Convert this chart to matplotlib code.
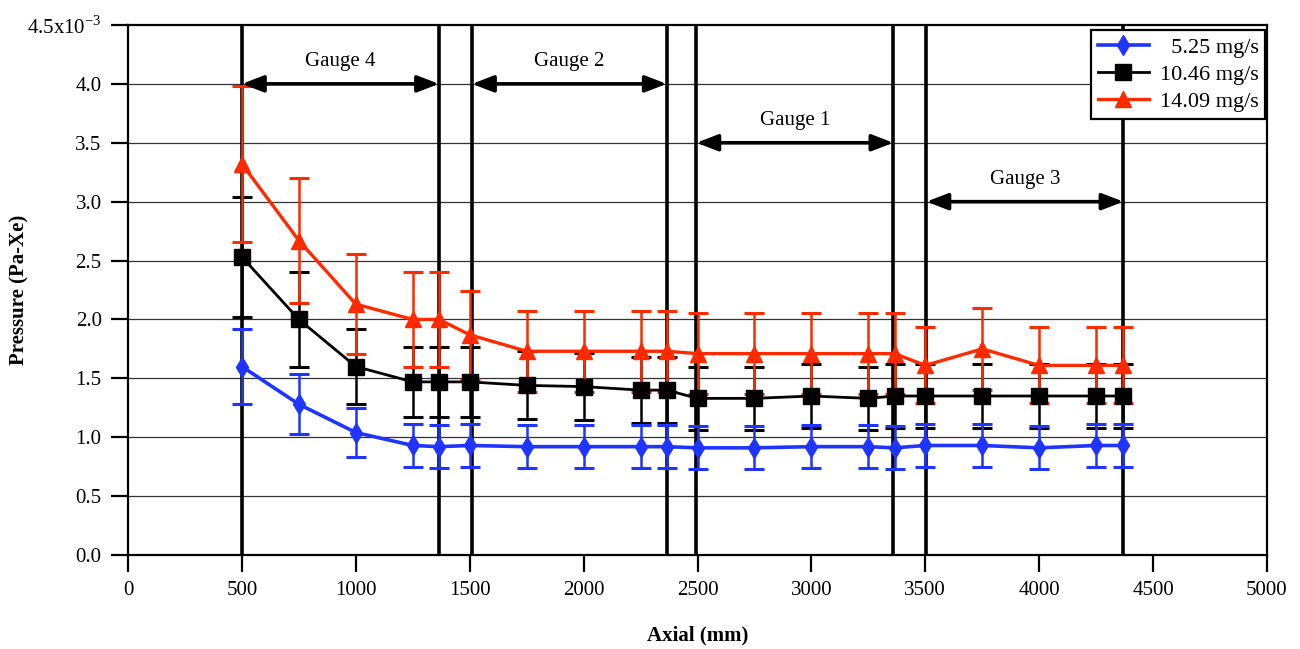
import matplotlib
matplotlib.use("Agg")
import matplotlib.pyplot as plt
from matplotlib.lines import Line2D

plt.rcParams['font.family'] = ['Liberation Serif', 'DejaVu Serif']
plt.rcParams['mathtext.fontset'] = 'custom'
plt.rcParams['mathtext.rm'] = 'Liberation Serif'

# Axial positions (mm)
axial = [500, 750, 1000, 1250, 1365, 1500, 1750, 2000, 2250, 2365, 2500,
         2750, 3000, 3250, 3365, 3500, 3750, 4000, 4250, 4370]

# Pressure values (x10^-3 Pa-Xe)
p_525 = [1.60, 1.28, 1.04, 0.93, 0.92, 0.93, 0.92, 0.92, 0.92, 0.92, 0.91,
         0.91, 0.92, 0.92, 0.91, 0.93, 0.93, 0.91, 0.93, 0.93]
p_1046 = [2.53, 2.00, 1.60, 1.47, 1.47, 1.47, 1.44, 1.43, 1.40, 1.40, 1.33,
          1.33, 1.35, 1.33, 1.35, 1.35, 1.35, 1.35, 1.35, 1.35]
p_1409 = [3.32, 2.67, 2.13, 2.00, 2.00, 1.87, 1.73, 1.73, 1.73, 1.73, 1.71,
          1.71, 1.71, 1.71, 1.71, 1.61, 1.75, 1.61, 1.61, 1.61]
rel_err = 0.20

labels = ['  5.25 mg/s', '10.46 mg/s', '14.09 mg/s']

# Gauge extents (mm) and arrow heights (x10^-3)
gauge_names = ['Gauge 4', 'Gauge 2', 'Gauge 1', 'Gauge 3']
gauge_start = [500, 1510, 2495, 3505]
gauge_end = [1365, 2365, 3360, 4370]
gauge_arrow_y = [4.0, 4.0, 3.5, 3.0]

xticks = [0, 500, 1000, 1500, 2000, 2500, 3000, 3500, 4000, 4500, 5000]
yticks = [0.0, 0.5, 1.0, 1.5, 2.0, 2.5, 3.0, 3.5, 4.0, 4.5]

blue = '#1f35ff'
red = '#ff2a00'

fig = plt.figure(figsize=(13, 6.49), dpi=100)
ax = fig.add_axes([0.0985, 0.1448, 0.8761, 0.8167])
ax.set_xlim(0, 5000)
ax.set_ylim(0, 4.5)

# horizontal grid
for yv in yticks[1:-1]:
    ax.axhline(yv, color='#333333', lw=0.9, zorder=1)

# gauge boundary lines
for s, e in zip(gauge_start, gauge_end):
    ax.axvline(s, color='black', lw=2.6, zorder=2)
    ax.axvline(e, color='black', lw=2.6, zorder=2)

series = [(p_1046, 'black', 's', 11, 2.0, labels[1]),
          (p_1409, red, '^', 11, 2.4, labels[2]),
          (p_525, blue, 'd', 10, 2.6, labels[0])]
handles = {}
for vals, col, mk, ms, lw, lab in series:
    errs = [v * rel_err for v in vals]
    ax.errorbar(axial, vals, yerr=errs, color=col, ecolor=col, elinewidth=1.8,
                capsize=7, capthick=2.2, lw=lw, marker=mk, ms=ms, zorder=4)
    handles[lab] = Line2D([], [], color=col, marker=mk, ms=ms, lw=lw)

# gauge arrows and labels
for name, s, e, yv in zip(gauge_names, gauge_start, gauge_end, gauge_arrow_y):
    ax.annotate('', xy=(s, yv), xytext=(e, yv),
                arrowprops=dict(arrowstyle='<|-|>,head_length=1.3,head_width=0.5',
                                color='black', lw=2.6, shrinkA=0, shrinkB=0),
                zorder=5)
    ax.text((s + e) / 2, yv + 0.11, name, ha='center', va='bottom',
            fontsize=15, zorder=5)

ax.set_xticks(xticks)
ax.set_xticklabels([str(x) for x in xticks])
ax.set_yticks(yticks)
ylabs = ['%.1f' % y for y in yticks]
ylabs[-1] = r'4.5x10$^{\mathrm{-3}}$'
ax.set_yticklabels(ylabs)
ax.tick_params(direction='out', length=12, width=1.6, labelsize=15, pad=7)
for sp in ax.spines.values():
    sp.set_linewidth(1.6)

ax.set_xlabel('Axial (mm)', fontsize=15, fontweight='bold', va='center')
ax.xaxis.set_label_coords(0.5, -0.151)
ax.set_ylabel('Pressure (Pa-Xe)', fontsize=15, fontweight='bold', va='center')
ax.yaxis.set_label_coords(-0.095, 0.5)

leg = ax.legend([handles[l] for l in labels], labels, loc='upper right',
                fontsize=16, frameon=True, fancybox=False, framealpha=1,
                edgecolor='black', handlelength=2.3, borderpad=0.3,
                labelspacing=0.3, handletextpad=0.5, borderaxespad=0.0,
                bbox_to_anchor=(0.9985, 0.99))
leg.get_frame().set_linewidth(1.6)
leg.set_zorder(10)

fig.savefig('out.png', dpi=100)
